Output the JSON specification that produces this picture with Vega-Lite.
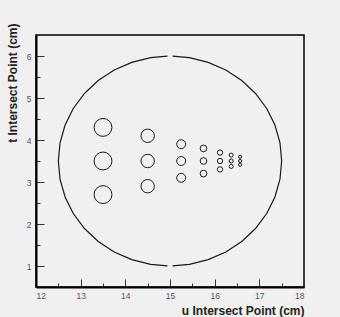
{
  "$schema": "https://vega.github.io/schema/vega-lite/v6.json",
  "autosize": {"type": "none"},
  "padding": {"left": 36, "top": 35, "right": 36, "bottom": 30},
  "width": 268,
  "height": 252,
  "background": "#f0f0f0",
  "config": {
    "view": {"stroke": "#000000", "strokeWidth": 1.5, "fill": "#f0f0f0"},
    "font": "Liberation Sans",
    "axis": {
      "grid": false,
      "domainColor": "#000000",
      "domainWidth": 2,
      "tickColor": "#333333",
      "tickWidth": 1,
      "labelFont": "Liberation Sans",
      "labelFontSize": 8.5,
      "labelColor": "#555555",
      "titleFont": "Liberation Sans",
      "titleFontSize": 12,
      "titleFontWeight": "bold",
      "titleColor": "#222222"
    }
  },
  "datasets": {
    "ring": [
      {"arc": "right", "k": 0, "u": 15.057, "t": 5.999},
      {"arc": "right", "k": 1, "u": 15.434, "t": 5.962},
      {"arc": "right", "k": 2, "u": 15.855, "t": 5.849},
      {"arc": "right", "k": 3, "u": 16.25, "t": 5.665},
      {"arc": "right", "k": 4, "u": 16.607, "t": 5.415},
      {"arc": "right", "k": 5, "u": 16.915, "t": 5.107},
      {"arc": "right", "k": 6, "u": 17.165, "t": 4.75},
      {"arc": "right", "k": 7, "u": 17.349, "t": 4.355},
      {"arc": "right", "k": 8, "u": 17.462, "t": 3.934},
      {"arc": "right", "k": 9, "u": 17.5, "t": 3.5},
      {"arc": "right", "k": 10, "u": 17.462, "t": 3.066},
      {"arc": "right", "k": 11, "u": 17.349, "t": 2.645},
      {"arc": "right", "k": 12, "u": 17.165, "t": 2.25},
      {"arc": "right", "k": 13, "u": 16.915, "t": 1.893},
      {"arc": "right", "k": 14, "u": 16.607, "t": 1.585},
      {"arc": "right", "k": 15, "u": 16.25, "t": 1.335},
      {"arc": "right", "k": 16, "u": 15.855, "t": 1.151},
      {"arc": "right", "k": 17, "u": 15.434, "t": 1.038},
      {"arc": "right", "k": 18, "u": 15.057, "t": 1.001},
      {"arc": "left", "k": 0, "u": 14.943, "t": 5.999},
      {"arc": "left", "k": 1, "u": 14.566, "t": 5.962},
      {"arc": "left", "k": 2, "u": 14.145, "t": 5.849},
      {"arc": "left", "k": 3, "u": 13.75, "t": 5.665},
      {"arc": "left", "k": 4, "u": 13.393, "t": 5.415},
      {"arc": "left", "k": 5, "u": 13.085, "t": 5.107},
      {"arc": "left", "k": 6, "u": 12.835, "t": 4.75},
      {"arc": "left", "k": 7, "u": 12.651, "t": 4.355},
      {"arc": "left", "k": 8, "u": 12.538, "t": 3.934},
      {"arc": "left", "k": 9, "u": 12.5, "t": 3.5},
      {"arc": "left", "k": 10, "u": 12.538, "t": 3.066},
      {"arc": "left", "k": 11, "u": 12.651, "t": 2.645},
      {"arc": "left", "k": 12, "u": 12.835, "t": 2.25},
      {"arc": "left", "k": 13, "u": 13.085, "t": 1.893},
      {"arc": "left", "k": 14, "u": 13.393, "t": 1.585},
      {"arc": "left", "k": 15, "u": 13.75, "t": 1.335},
      {"arc": "left", "k": 16, "u": 14.145, "t": 1.151},
      {"arc": "left", "k": 17, "u": 14.566, "t": 1.038},
      {"arc": "left", "k": 18, "u": 14.943, "t": 1.001}
    ],
    "holes": [
      {"u": 13.5, "t": 4.3, "d": 0.4},
      {"u": 13.5, "t": 3.5, "d": 0.4},
      {"u": 13.5, "t": 2.7, "d": 0.4},
      {"u": 14.5, "t": 4.1, "d": 0.3},
      {"u": 14.5, "t": 3.5, "d": 0.3},
      {"u": 14.5, "t": 2.9, "d": 0.3},
      {"u": 15.25, "t": 3.9, "d": 0.2},
      {"u": 15.25, "t": 3.5, "d": 0.2},
      {"u": 15.25, "t": 3.1, "d": 0.2},
      {"u": 15.75, "t": 3.8, "d": 0.15},
      {"u": 15.75, "t": 3.5, "d": 0.15},
      {"u": 15.75, "t": 3.2, "d": 0.15},
      {"u": 16.12, "t": 3.7, "d": 0.12},
      {"u": 16.12, "t": 3.5, "d": 0.12},
      {"u": 16.12, "t": 3.3, "d": 0.12},
      {"u": 16.37, "t": 3.64, "d": 0.09},
      {"u": 16.37, "t": 3.5, "d": 0.09},
      {"u": 16.37, "t": 3.37, "d": 0.09},
      {"u": 16.57, "t": 3.6, "d": 0.07},
      {"u": 16.57, "t": 3.5, "d": 0.07},
      {"u": 16.57, "t": 3.41, "d": 0.07}
    ]
  },
  "encoding": {
    "x": {
      "field": "u",
      "type": "quantitative",
      "scale": {"domain": [12, 18], "nice": false, "zero": false},
      "axis": {
        "title": "u Intersect Point (cm)",
        "values": [12, 12.5, 13, 13.5, 14, 14.5, 15, 15.5, 16, 16.5, 17, 17.5, 18],
        "labelExpr": "datum.value % 1 === 0 ? format(datum.value, 'd') : ''",
        "tickSize": {"condition": {"test": "datum.value % 1 !== 0", "value": -4}, "value": -8},
        "labelPadding": 12,
        "labelBaseline": "top",
        "titleAnchor": "end",
        "titleAlign": "right",
        "titleBaseline": "middle",
        "titleX": 268,
        "titleY": 23
      }
    },
    "y": {
      "field": "t",
      "type": "quantitative",
      "scale": {"domain": [0.5, 6.5], "nice": false, "zero": false},
      "axis": {
        "title": "t Intersect Point (cm)",
        "values": [1, 1.5, 2, 2.5, 3, 3.5, 4, 4.5, 5, 5.5, 6],
        "labelExpr": "datum.value % 1 === 0 ? format(datum.value, 'd') : ''",
        "tickSize": {"condition": {"test": "datum.value % 1 !== 0", "value": -4}, "value": -8},
        "labelPadding": 13,
        "titleAngle": -90,
        "titleAlign": "right",
        "titleBaseline": "middle",
        "titleX": -24,
        "titleY": -12
      }
    }
  },
  "layer": [
    {
      "data": {"name": "ring"},
      "mark": {"type": "line", "stroke": "#1a1a1a", "strokeWidth": 1.2},
      "encoding": {
        "detail": {"field": "arc"},
        "order": {"field": "k", "type": "quantitative"}
      }
    },
    {
      "data": {"name": "holes"},
      "mark": {"type": "point", "shape": "circle", "filled": false, "stroke": "#1a1a1a", "strokeWidth": 1, "opacity": 1},
      "encoding": {
        "size": {
          "field": "d",
          "type": "quantitative",
          "scale": {"type": "pow", "exponent": 2, "domain": [0, 0.4], "range": [0, 320]},
          "legend": null
        }
      }
    }
  ]
}
